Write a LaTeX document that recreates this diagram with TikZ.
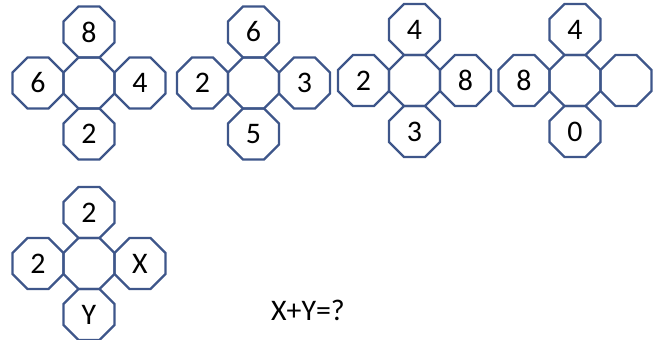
\documentclass[tikz,border=0pt]{standalone}
\usepackage{fontspec}
\setmainfont{Carlito}
\usepackage{xcolor}
\usetikzlibrary{positioning, shapes.geometric}
\definecolor{octblue}{RGB}{62,86,138}

\begin{document}
\begin{tikzpicture}[
    x=0.02cm, y=-0.02cm,
    oct/.style={regular polygon, regular polygon sides=8, draw=octblue, line width=1.3pt,
        minimum size=1.104cm, inner sep=0pt, outer sep=0pt, font=\fontsize{17}{20}\selectfont},
    every node/.style={font=\fontsize{17}{20}\selectfont}
]
    \useasboundingbox (0,0) rectangle (663,340);

    % first puzzle
    \node[oct] (c1) at (89,83) {};
    \node[oct, above=0pt of c1] (c1n) {8};
    \node[oct, left=0pt of c1] (c1w) {6};
    \node[oct, right=0pt of c1] (c1e) {4};
    \node[oct, below=0pt of c1] (c1s) {2};

    % second puzzle
    \node[oct] (c2) at (253.5,83) {};
    \node[oct, above=0pt of c2] (c2n) {6};
    \node[oct, left=0pt of c2] (c2w) {2};
    \node[oct, right=0pt of c2] (c2e) {3};
    \node[oct, below=0pt of c2] (c2s) {5};

    % third puzzle
    \node[oct] (c3) at (414.5,80.5) {};
    \node[oct, above=0pt of c3] (c3n) {4};
    \node[oct, left=0pt of c3] (c3w) {2};
    \node[oct, right=0pt of c3] (c3e) {8};
    \node[oct, below=0pt of c3] (c3s) {3};

    % fourth puzzle
    \node[oct] (c4) at (575,80.5) {};
    \node[oct, above=0pt of c4] (c4n) {4};
    \node[oct, left=0pt of c4] (c4w) {8};
    \node[oct, right=0pt of c4] (c4e) {};
    \node[oct, below=0pt of c4] (c4s) {0};

    % the question
    \node[oct] (c5) at (89,263.5) {};
    \node[oct, above=0pt of c5] (c5n) {2};
    \node[oct, left=0pt of c5] (c5w) {2};
    \node[oct, right=0pt of c5] (c5e) {X};
    \node[oct, below=0pt of c5] (c5s) {Y};

    \node (ask) at (308,310) {X+Y=?};
\end{tikzpicture}
\end{document}
